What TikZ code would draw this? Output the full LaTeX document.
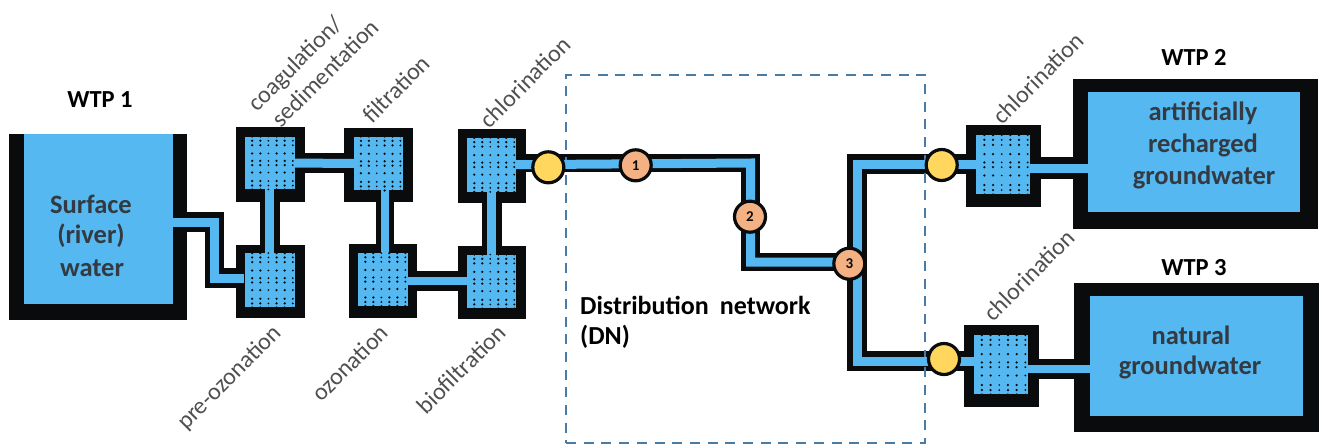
\documentclass[tikz,border=0pt]{standalone}
\usepackage{fontspec}
\setmainfont{Carlito}
\usetikzlibrary{calc}
\definecolor{wblue}{HTML}{55B8F0}
\definecolor{wblack}{HTML}{0A0B0D}
\definecolor{wyellow}{HTML}{FFD75F}
\definecolor{worange}{HTML}{F4B183}
\definecolor{wdash}{HTML}{4A7BA6}
\definecolor{wgrey}{HTML}{4F4F4F}
\definecolor{wink}{HTML}{333A42}
\tikzset{
  shell/.style={draw=none,fill=wblack,inner sep=0pt},
  water/.style={draw=none,fill=wblue,inner sep=0pt},
  pipeout/.style={draw=wblack,line width=19.5pt,line cap=butt,line join=miter},
  pipein/.style={draw=wblue,line width=9pt,line cap=butt,line join=miter},
  valve/.style={circle,draw=wblack,line width=3.2pt,fill=wyellow,minimum size=31pt,inner sep=0pt},
  site/.style={circle,draw=wblack,line width=3.2pt,fill=worange,minimum size=31pt,inner sep=0pt,font=\bfseries\fontsize{15}{15}\selectfont,text=wblack},
  steplabel/.style={rotate=45,text=wgrey,font=\fontsize{24}{24}\selectfont,inner sep=0pt},
  title/.style={text=black,font=\bfseries\fontsize{24.5}{24.5}\selectfont,inner sep=0pt},
  tanktext/.style={text=wink,font=\bfseries\fontsize{26.5}{26.5}\selectfont,inner sep=0pt},
  dntext/.style={anchor=west,text=black,font=\bfseries\fontsize{26}{26}\selectfont,inner sep=0pt}
}
% outer box, inner box: name, x1,y1,x2,y2 (outer), x1,y1,x2,y2 (inner)
\newcommand\unitbox[9]{%
  \node[shell,minimum width={#4pt-#2pt},minimum height={#5pt-#3pt}] (#1o) at ({(#2+#4)/2},{(#3+#5)/2}) {};
  \node[water,minimum width={#8pt-#6pt},minimum height={#9pt-#7pt}] (#1) at ({(#6+#8)/2},{(#7+#9)/2}) {};
}
\begin{document}
\begin{tikzpicture}[x=1pt,y=-1pt]
\useasboundingbox (0,0) rectangle (1324,445);
\coordinate (t0) at (173,222);
\coordinate (t1) at (214.5,222);
\coordinate (t2) at (214.5,278);
\coordinate (m1) at (750.5,163);
\coordinate (m2) at (750.5,262);
\coordinate (m3) at (857,262);
\coordinate (u1) at (857,164);
\coordinate (l1) at (857,361);
\coordinate (ue) at (1000,164);
\coordinate (le) at (1000,361);
\coordinate (fv) at (384.5,163);
\coordinate (ov) at (384.5,281);
\coordinate (ov2) at (400,281);
\coordinate (bv) at (470,281);
\node[shell,minimum width=178pt,minimum height=186pt] (tanko) at (98,227) {};
\path[pipeout] (t0) -- (t1) -- (t2) -- (270,278);
\path[pipeout] (270,163) -- (378,163);
\path[pipeout] (270,163) -- (270,280);
\path[pipeout,line width=18pt] (fv) -- (ov);
\path[pipeout] (ov2) -- (bv);
\path[pipeout] (492,165) -- (492,281);
\path[pipeout,line width=18.5pt] (492,163) -- (m1) -- (m2) -- (m3);
\path[pipeout] (ue) -- (u1) -- (l1) -- (le);
\path[pipeout,line width=22.5pt] (1003,168) -- (1090,168);
\path[pipeout] (1000,369) -- (1090,369);
\node[water,anchor=north west,minimum width=149pt,minimum height=169.5pt] (tank) at (24,134) {};
\unitbox{coag}{235.7}{126.7}{304.6}{201.7}{244.6}{136.7}{295}{189.3}
\unitbox{filt}{343.6}{127.7}{412.5}{201.7}{353.6}{136.7}{402.5}{190.3}
\unitbox{chla}{457.9}{129.3}{526.4}{202.7}{466.8}{138}{516.4}{191.7}
\unitbox{preo}{235.7}{245}{304.6}{318.3}{244.6}{253.3}{295}{307.3}
\unitbox{ozon}{348.6}{243.7}{417}{318.3}{357.9}{253.3}{407.5}{305.7}
\unitbox{biof}{457.9}{246}{526.4}{319.3}{466.8}{254.7}{516.4}{308.3}
\unitbox{chlb}{966}{125.3}{1041.3}{207}{976.3}{135.3}{1030}{194.3}
\unitbox{chlc}{963.7}{325.3}{1038.7}{407}{973.7}{335.3}{1027.7}{394.3}
\unitbox{wtpb}{1072.7}{79.3}{1318.3}{228.7}{1087.7}{91.7}{1300.3}{212.3}
\unitbox{wtpc}{1074}{283}{1319.3}{432.3}{1090}{295.7}{1303}{416}
% dashed DN boundary
\node[draw=wdash,dash pattern=on 10pt off 7.7pt,line width=2.6pt,minimum width=359pt,minimum height=368pt,inner sep=0pt] (dn) at (745.5,259) {};
% water in pipes
\path[pipein] (tank.east |- t0) -- (t1) -- (t2) -- (preo.west |- t2);
\path[pipein] (coag.center) -- (filt.center);
\path[pipein] (coag.center) -- (preo.center);
\path[pipein,line width=8pt] (filt.center -| fv) -- (ozon.center -| fv);
\path[pipein,line width=7.5pt] (ozon.center |- ov) -- (biof.center |- ov);
\path[pipein] (chla.center) -- (biof.center);
\path[pipein] (chla.center) -- (m1) -- (m2) -- (m3);
\path[pipein] (chlb.center |- u1) -- (u1) -- (l1) -- (chlc.center |- l1);
\path[pipein] (chlb.center |- 0,168) -- (wtpb.west |- 0,168);
\path[pipein,line width=8pt] (chlc.center |- 0,369) -- (wtpc.west |- 0,369);
% stipple
\foreach \b in {coag,filt,chla,preo,ozon,biof,chlb,chlc}{
  \foreach \fy in {0,.08,.165,.32,.46,.54,.68,.84,.925,1}{
    \foreach \fx/\rad in {.153/1.25,.313/1.25,.473/.95,.633/1.25,.793/1.25,.953/1.05}{
      \fill[wblack] ($($(\b.north west)!\fx!(\b.north east)$)!\fy!($(\b.south west)!\fx!(\b.south east)$)$) circle[radius=\rad];
    }
  }
}
% circles
\node[valve] (va) at (548.3,167.3) {};
\node[valve] (vb) at (941.7,165) {};
\node[valve] (vc) at (944,359) {};
\node[site] (s1) at (635.7,165.3) {1};
\node[site] (s2) at (750,216.7) {2};
\node[site] (s3) at (849.3,263.7) {3};
% labels
\node[title] (lw1) at (100,100) {WTP 1};
\node[title] (lw2) at (1194,57.7) {WTP 2};
\node[title] (lw3) at (1194,268) {WTP 3};
\node[tanktext] (ls1) at (91,204) {Surface};
\node[tanktext] (ls2) at (91,236) {(river)};
\node[tanktext] (ls3) at (92,268) {water};
\node[tanktext] (la1) at (1203,113) {artificially};
\node[tanktext] (la2) at (1203,145) {recharged};
\node[tanktext] (la3) at (1204,177) {groundwater};
\node[tanktext] (ln1) at (1191,335) {natural};
\node[tanktext] (ln2) at (1190,367) {groundwater};
\node[dntext] (ld1) at (580,305) {Distribution\hspace{0.2em} network};
\node[dntext] (ld2) at (580,337) {(DN)};
\node[steplabel] (t1l) at (296,65) {coagulation/};
\node[steplabel] (t2l) at (325,73) {sedimentation};
\node[steplabel] (t3l) at (396,89) {filtration};
\node[steplabel] (t4l) at (525,82) {chlorination};
\node[steplabel] (t5l) at (230,378) {pre-ozonation};
\node[steplabel] (t6l) at (350,363) {ozonation};
\node[steplabel] (t7l) at (461,369) {biofiltration};
\node[steplabel] (t8l) at (1038,78) {chlorination};
\node[steplabel] (t9l) at (1029,275) {chlorination};
\end{tikzpicture}
\end{document}
